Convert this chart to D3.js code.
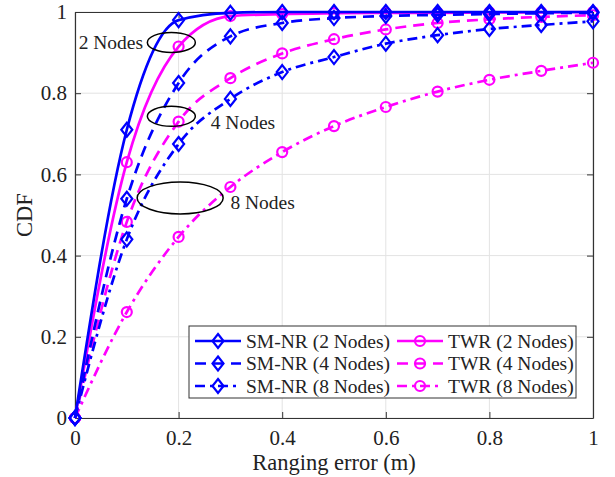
<!DOCTYPE html>
<html>
<head>
<meta charset="utf-8">
<script src="https://cdn.jsdelivr.net/npm/d3@7"></script>
<style>
  body { margin: 0; background: #fff; }
</style>
</head>
<body>
<div id="chart"></div>
<script>
let xValues = [0, 0.1, 0.2, 0.3, 0.4, 0.5, 0.6, 0.7, 0.8, 0.9, 1.0]

let smnr2 = [0, 0.71, 0.98, 0.998, 1, 1, 1, 1, 1, 1, 1]
let smnr4 = [0, 0.54, 0.825, 0.94, 0.973, 0.985, 0.99, 0.993, 0.995, 0.997, 0.998]
let smnr8 = [0, 0.44, 0.675, 0.786, 0.852, 0.889, 0.922, 0.943, 0.958, 0.968, 0.977]
let twr2 = [0, 0.63, 0.915, 0.99, 0.995, 0.997, 0.998, 0.998, 0.999, 0.999, 1]
let twr4 = [0, 0.483, 0.73, 0.837, 0.898, 0.933, 0.957, 0.973, 0.982, 0.988, 0.992]
let twr8 = [0, 0.261, 0.446, 0.569, 0.655, 0.719, 0.766, 0.804, 0.833, 0.855, 0.875]

let seriesNames = ['SM-NR (2 Nodes)', 'SM-NR (4 Nodes)', 'SM-NR (8 Nodes)',
  'TWR (2 Nodes)', 'TWR (4 Nodes)', 'TWR (8 Nodes)']
let xTicks = [0, 0.2, 0.4, 0.6, 0.8, 1]
let yTicks = [0, 0.2, 0.4, 0.6, 0.8, 1]

let serif = "'Liberation Serif', 'Times New Roman', 'DejaVu Serif', serif"
let fontSize = 19.5

let series = [
  { name: seriesNames[0], values: smnr2, color: '#0000ff', dash: null, marker: 'diamond' },
  { name: seriesNames[1], values: smnr4, color: '#0000ff', dash: '11,7', marker: 'diamond' },
  { name: seriesNames[2], values: smnr8, color: '#0000ff', dash: '10,5,3,5', marker: 'diamond' },
  { name: seriesNames[3], values: twr2, color: '#ff00ff', dash: null, marker: 'circle' },
  { name: seriesNames[4], values: twr4, color: '#ff00ff', dash: '11,7', marker: 'circle' },
  { name: seriesNames[5], values: twr8, color: '#ff00ff', dash: '10,5,3,5', marker: 'circle' }
]

let margin = { top: 12, left: 75, right: 22, bottom: 59 }
let width = 615 - margin.left - margin.right
let height = 477 - margin.top - margin.bottom

let svg = d3
  .select('#chart')
  .append('svg')
  .attr('width', 615)
  .attr('height', 477)
  .append('g')
  .attr('transform', 'translate(' + margin.left + ',' + margin.top + ')')

let xPositionScale = d3.scaleLinear().domain([0, 1]).range([0, width])
let yPositionScale = d3.scaleLinear().domain([0, 1]).range([height, 0])

// grid
svg.selectAll('.vgrid').data(xTicks).enter().append('line')
  .attr('x1', d => xPositionScale(d)).attr('x2', d => xPositionScale(d))
  .attr('y1', 0).attr('y2', height)
  .attr('stroke', '#e3e3e3').attr('stroke-width', 1)
svg.selectAll('.hgrid').data(yTicks).enter().append('line')
  .attr('y1', d => yPositionScale(d)).attr('y2', d => yPositionScale(d))
  .attr('x1', 0).attr('x2', width)
  .attr('stroke', '#e3e3e3').attr('stroke-width', 1)

// axes
let xAxis = d3.axisBottom(xPositionScale).tickValues(xTicks).tickSizeInner(-6).tickSizeOuter(0).tickPadding(12)
  .tickFormat(d3.format('~g'))
let yAxis = d3.axisLeft(yPositionScale).tickValues(yTicks).tickSizeInner(-6).tickSizeOuter(0).tickPadding(8)
  .tickFormat(d3.format('~g'))
let xAxisTop = d3.axisTop(xPositionScale).tickValues(xTicks).tickSizeInner(-6).tickSizeOuter(0).tickFormat('')
let yAxisRight = d3.axisRight(yPositionScale).tickValues(yTicks).tickSizeInner(-6).tickSizeOuter(0).tickFormat('')

svg.append('g').attr('class', 'axis').attr('transform', 'translate(0,' + height + ')').call(xAxis)
svg.append('g').attr('class', 'axis').call(yAxis)
svg.append('g').attr('class', 'axis').call(xAxisTop)
svg.append('g').attr('class', 'axis').attr('transform', 'translate(' + width + ',0)').call(yAxisRight)

svg.selectAll('.axis').attr('font-family', serif).attr('font-size', 21)
svg.selectAll('.axis path').attr('stroke', '#333').attr('stroke-width', 1.2)
svg.selectAll('.axis line').attr('stroke', '#333')
svg.selectAll('.axis text').attr('fill', '#222')

// lines
let line = d3.line()
  .x((d, i) => xPositionScale(xValues[i]))
  .y(d => yPositionScale(d))
  .curve(d3.curveMonotoneX)

// wider matlab-style diamond
let diamondPath = 'M0,-7L5.5,0L0,7L-5.5,0Z'

function drawMarker(g, type, color) {
  if (type === 'diamond') {
    g.append('path').attr('d', diamondPath)
      .attr('fill', 'none').attr('stroke', color).attr('stroke-width', 2.2)
  } else {
    g.append('circle').attr('r', 5)
      .attr('fill', 'none').attr('stroke', color).attr('stroke-width', 2.2)
  }
}

series.slice().reverse().forEach(s => {
  svg.append('path')
    .datum(s.values)
    .attr('d', line)
    .attr('fill', 'none')
    .attr('stroke', s.color)
    .attr('stroke-width', 2.7)
    .attr('stroke-dasharray', s.dash)

  s.values.forEach((v, i) => {
    let g = svg.append('g')
      .attr('transform', 'translate(' + xPositionScale(xValues[i]) + ',' + yPositionScale(v) + ')')
    drawMarker(g, s.marker, s.color)
  })
})

// annotations
let notes = [
  { label: '2 Nodes', cx: 0.186, cy: 0.925, rx: 24, ry: 10, tx: 0.007, ty: 0.925 },
  { label: '4 Nodes', cx: 0.186, cy: 0.743, rx: 24, ry: 10, tx: 0.262, ty: 0.728 },
  { label: '8 Nodes', cx: 0.203, cy: 0.542, rx: 43, ry: 16, tx: 0.3, ty: 0.532 }
]
notes.forEach(n => {
  svg.append('ellipse')
    .attr('cx', xPositionScale(n.cx)).attr('cy', yPositionScale(n.cy))
    .attr('rx', n.rx).attr('ry', n.ry)
    .attr('fill', 'none').attr('stroke', '#000').attr('stroke-width', 1.5)
  svg.append('text')
    .attr('x', xPositionScale(n.tx)).attr('y', yPositionScale(n.ty))
    .attr('dy', '0.35em')
    .attr('font-family', serif)
    .attr('font-size', fontSize)
    .attr('fill', '#222')
    .text(n.label)
})

// legend
let legend = svg.append('g').attr('transform', 'translate(' + (189 - margin.left) + ',' + (326 - margin.top) + ')')
legend.append('rect')
  .attr('width', 387).attr('height', 72)
  .attr('fill', '#fff').attr('stroke', '#333').attr('stroke-width', 1)

series.forEach((s, i) => {
  let col = Math.floor(i / 3)
  let row = i % 3
  let g = legend.append('g').attr('transform', 'translate(' + (6 + col * 202) + ',' + (15 + row * 22.5) + ')')
  g.append('line')
    .attr('x1', 0).attr('x2', 46).attr('y1', 0).attr('y2', 0)
    .attr('stroke', s.color).attr('stroke-width', 2.7)
    .attr('stroke-dasharray', s.dash)
  let m = g.append('g').attr('transform', 'translate(23,0)')
  drawMarker(m, s.marker, s.color)
  g.append('text')
    .attr('x', 51).attr('y', 0).attr('dy', '0.35em')
    .attr('font-family', serif)
    .attr('font-size', fontSize).attr('fill', '#222')
    .text(s.name)
})

// axis labels
svg.append('text')
  .attr('x', width / 2).attr('y', height + 52)
  .attr('text-anchor', 'middle')
  .attr('font-family', serif).attr('font-size', 22.5).attr('fill', '#222')
  .text('Ranging error (m)')

svg.append('text')
  .attr('transform', 'translate(-43,' + height / 2 + ') rotate(-90)')
  .attr('text-anchor', 'middle')
  .attr('font-family', serif).attr('font-size', 22.5).attr('fill', '#222')
  .text('CDF')
</script>
</body>
</html>
